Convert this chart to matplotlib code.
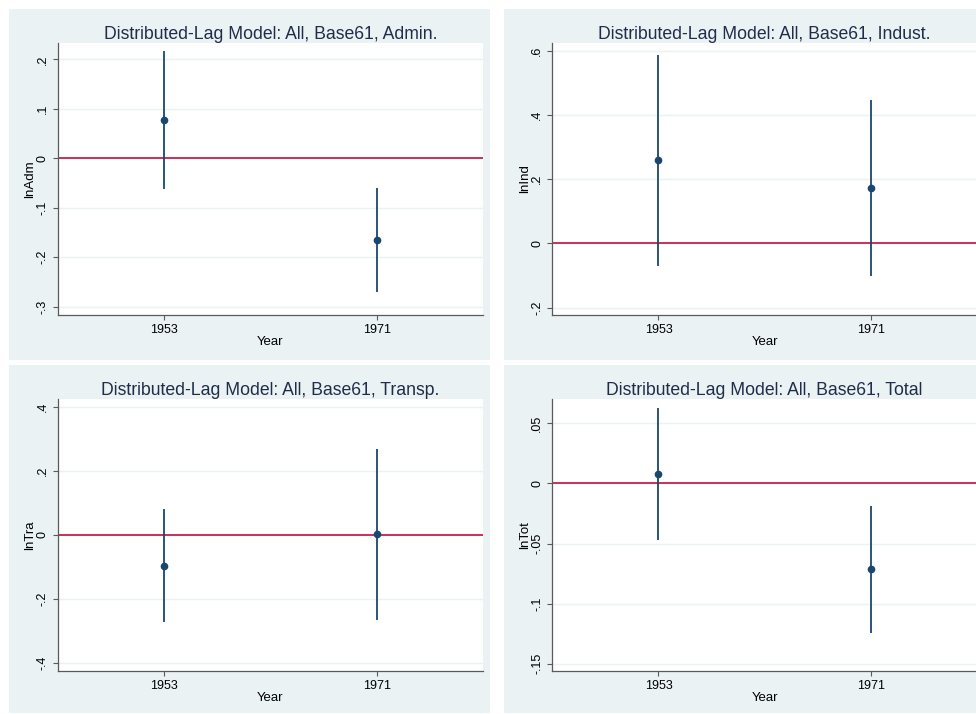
import matplotlib.pyplot as plt
from matplotlib.patches import Rectangle
from matplotlib.ticker import FuncFormatter

years = [1953, 1971]

panels = ["Admin.", "Indust.", "Transp.", "Total"]
ylabels = ["lnAdm", "lnInd", "lnTra", "lnTot"]

# point estimates and 95% confidence bounds
coef_adm = [0.078, -0.165]
lo_adm = [-0.062, -0.271]
hi_adm = [0.217, -0.060]

coef_ind = [0.259, 0.172]
lo_ind = [-0.070, -0.102]
hi_ind = [0.587, 0.446]

coef_tra = [-0.096, 0.003]
lo_tra = [-0.272, -0.266]
hi_tra = [0.080, 0.270]

coef_tot = [0.008, -0.071]
lo_tot = [-0.047, -0.124]
hi_tot = [0.063, -0.0185]

yticks_adm = [-0.3, -0.2, -0.1, 0, 0.1, 0.2]
yticks_ind = [-0.2, 0, 0.2, 0.4, 0.6]
yticks_tra = [-0.4, -0.2, 0, 0.2, 0.4]
yticks_tot = [-0.15, -0.1, -0.05, 0, 0.05]

ylims = [(-0.317, 0.233), (-0.223, 0.624), (-0.425, 0.425), (-0.156, 0.0703)]

BG = "#EAF2F3"
NAVY = "#1A476F"
RED = "#C0103C"
W, H = 976, 714


def stata_fmt(v, pos):
    s = f"{v:g}"
    if s.startswith("0."):
        s = s[1:]
    elif s.startswith("-0."):
        s = "-" + s[2:]
    return s


plt.rcParams["font.family"] = ["Liberation Sans", "DejaVu Sans"]
fig = plt.figure(figsize=(W / 100, H / 100), dpi=100, facecolor="white")

# panel frames in pixel units: (bg_left, bg_top, bg_right, bg_bottom), (ax_left, ax_top, ax_right, ax_bottom)
frames = [
    ((9, 9, 490, 360), (57.5, 43, 483, 315)),
    ((504, 9, 990, 360), (552.3, 43, 977, 315)),
    ((9, 365, 490, 713), (57.5, 399, 483, 671)),
    ((504, 365, 990, 713), (552.3, 399, 977, 671)),
]

data = [
    (coef_adm, lo_adm, hi_adm, yticks_adm),
    (coef_ind, lo_ind, hi_ind, yticks_ind),
    (coef_tra, lo_tra, hi_tra, yticks_tra),
    (coef_tot, lo_tot, hi_tot, yticks_tot),
]

for i, ((bg, axr), (coef, lo, hi, yt)) in enumerate(zip(frames, data)):
    rect = Rectangle((bg[0] / W, 1 - bg[3] / H), (bg[2] - bg[0]) / W, (bg[3] - bg[1]) / H,
                     transform=fig.transFigure, facecolor=BG, edgecolor="none", zorder=-10)
    fig.add_artist(rect)
    ax = fig.add_axes([axr[0] / W, 1 - axr[3] / H, (axr[2] - axr[0]) / W, (axr[3] - axr[1]) / H])
    ax.set_facecolor("white")
    ax.set_xlim(1944, 1980)
    ax.set_ylim(*ylims[i])
    ax.set_yticks(yt)
    ax.yaxis.set_major_formatter(FuncFormatter(stata_fmt))
    ax.set_xticks(years)
    for v in yt:
        ax.axhline(v, color=BG, lw=1.0, zorder=1)
    ax.axhline(0, color=RED, lw=1.2, zorder=2)
    ax.vlines(years, lo, hi, color=NAVY, lw=1.3, zorder=3)
    ax.plot(years, coef, "o", color=NAVY, ms=4.5, zorder=4)

    for s in ["top", "right"]:
        ax.spines[s].set_visible(False)
    for s in ["left", "bottom"]:
        ax.spines[s].set_color("#5a5a5a")
        ax.spines[s].set_linewidth(0.9)
    ax.tick_params(axis="both", colors="#5a5a5a", labelcolor="black", labelsize=9, length=3.5,
                   width=0.8, pad=3)
    plt.setp(ax.get_yticklabels(), rotation=90, va="center")
    ax.set_xlabel("Year", fontsize=9.5, labelpad=0)
    ax.set_ylabel(ylabels[i], fontsize=9.5, labelpad=0)
    ax.set_title(f"Distributed-Lag Model: All, Base61, {panels[i]}", fontsize=12.7,
                 color="#1f2d4a", pad=3)

fig.savefig("out.png", dpi=100, facecolor="white")
